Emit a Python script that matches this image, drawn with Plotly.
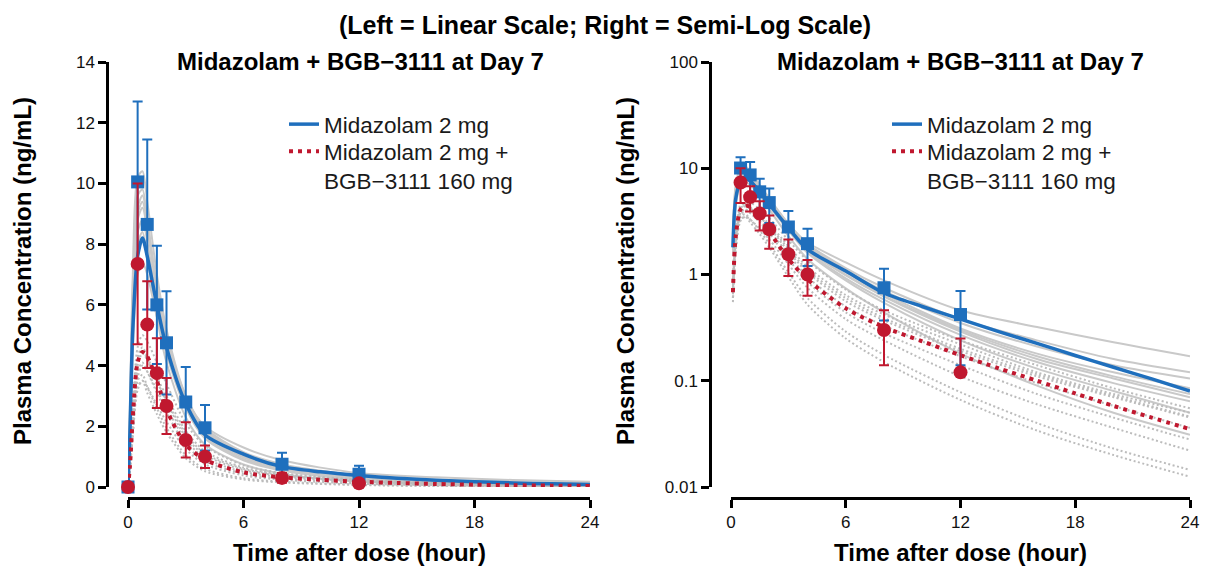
import plotly.graph_objects as go

W, H = 1211, 572
OFF = 8  # page body margin of the browser

# ---------------- data ----------------
# observed means (SD) by nominal time
t_obs = [0, 0.5, 1, 1.5, 2, 3, 4, 8, 12]
alone_mean = [0, 10.05, 8.65, 6.0, 4.75, 2.8, 1.95, 0.75, 0.42]
alone_sd = [0, 2.65, 2.8, 1.95, 1.7, 1.15, 0.75, 0.38, 0.28]
combo_mean = [0, 7.35, 5.35, 3.75, 2.67, 1.55, 1.0, 0.30, 0.12]
combo_sd = [0, 2.65, 1.43, 1.15, 0.92, 0.58, 0.37, 0.16, 0.13]

# model-predicted mean profiles
t_model = [0, 0.1, 0.25, 0.5, 0.75, 1, 1.5, 2, 3, 4, 6, 8, 10, 12, 14, 16, 18, 20, 22, 24]
alone_model = [0, 1.8, 5.2, 7.6, 8.2, 7.6, 6.0, 4.6, 2.75, 1.72, 1.08, 0.67, 0.5, 0.38,
               0.29, 0.225, 0.173, 0.134, 0.104, 0.08]
combo_model = [0, 0.68, 2.3, 4.1, 4.45, 4.3, 3.5, 2.55, 1.4, 0.9, 0.48, 0.32, 0.235, 0.174,
               0.131, 0.1, 0.076, 0.058, 0.045, 0.035]

# individual predicted profiles
t_ind = [0, 0.1, 0.25, 0.5, 0.75, 1, 1.5, 2, 3, 4, 6, 8, 12, 16, 20, 24]
alone_ind = [
    [0, 1.5, 4.5, 7.0, 7.4, 7.0, 5.6, 4.5, 2.9, 2.0, 1.3, 0.88, 0.46, 0.32, 0.23, 0.17],
    [0, 2.2, 6.0, 9.0, 9.4, 8.6, 6.6, 5.0, 3.0, 1.95, 1.15, 0.75, 0.38, 0.24, 0.16, 0.12],
    [0, 2.6, 7.0, 10.2, 10.4, 9.4, 7.0, 5.2, 3.0, 1.9, 1.1, 0.70, 0.35, 0.21, 0.14, 0.105],
    [0, 2.0, 5.8, 8.8, 9.2, 8.5, 6.5, 4.9, 2.9, 1.85, 1.05, 0.66, 0.31, 0.18, 0.12, 0.085],
    [0, 1.9, 5.5, 8.4, 8.8, 8.1, 6.1, 4.6, 2.7, 1.7, 0.98, 0.62, 0.29, 0.16, 0.105, 0.07],
    [0, 2.4, 6.6, 9.6, 9.8, 8.8, 6.4, 4.7, 2.7, 1.65, 0.92, 0.58, 0.27, 0.15, 0.095, 0.064],
    [0, 1.7, 5.0, 7.8, 8.2, 7.6, 5.8, 4.4, 2.6, 1.6, 0.88, 0.54, 0.24, 0.13, 0.08, 0.05],
    [0, 1.8, 5.2, 8.0, 8.4, 7.6, 5.6, 4.1, 2.3, 1.4, 0.74, 0.44, 0.18, 0.09, 0.05, 0.031],
    [0, 2.1, 6.2, 9.2, 9.6, 8.8, 6.6, 4.9, 2.8, 1.75, 1.0, 0.63, 0.30, 0.17, 0.11, 0.075],
]
combo_ind = [
    [0, 0.9, 2.6, 4.6, 5.0, 4.8, 4.1, 3.4, 2.1, 1.35, 0.72, 0.46, 0.24, 0.14, 0.085, 0.055],
    [0, 0.7, 2.2, 4.0, 4.4, 4.2, 3.6, 3.0, 1.85, 1.18, 0.64, 0.42, 0.22, 0.12, 0.075, 0.05],
    [0, 0.8, 2.4, 4.3, 4.6, 4.3, 3.5, 2.8, 1.65, 1.05, 0.56, 0.37, 0.19, 0.11, 0.07, 0.045],
    [0, 0.6, 1.9, 3.6, 4.0, 3.8, 3.2, 2.6, 1.55, 0.95, 0.5, 0.33, 0.17, 0.095, 0.058, 0.036],
    [0, 0.7, 2.1, 3.8, 4.1, 3.8, 3.1, 2.45, 1.4, 0.85, 0.44, 0.28, 0.14, 0.075, 0.045, 0.028],
    [0, 0.55, 1.7, 3.2, 3.5, 3.3, 2.7, 2.15, 1.25, 0.75, 0.38, 0.24, 0.11, 0.06, 0.036, 0.022],
    [0, 0.6, 1.8, 3.3, 3.5, 3.1, 2.4, 1.8, 0.95, 0.52, 0.25, 0.15, 0.066, 0.034, 0.02, 0.0125],
    [0, 0.65, 1.9, 3.5, 3.7, 3.3, 2.6, 1.95, 1.05, 0.6, 0.29, 0.175, 0.078, 0.04, 0.023, 0.0145],
    [0, 0.75, 2.3, 4.2, 4.5, 4.2, 3.5, 2.85, 1.75, 1.1, 0.6, 0.39, 0.20, 0.115, 0.072, 0.046],
]

x_ticks = [0, 6, 12, 18, 24]
y_lin_ticks = [0, 2, 4, 6, 8, 10, 12, 14]
y_log_ticks = [0.01, 0.1, 1, 10, 100]
y_log_text = ["0.01", "0.1", "1", "10", "100"]

name_alone = "Midazolam 2 mg"
name_combo = "Midazolam 2 mg +<br>BGB\u22123111 160 mg"
panel_title = "<b>Midazolam + BGB\u22123111 at Day 7</b>"

# ---------------- style ----------------
BLUE = "#1f6fbd"
RED = "#c0182f"
GRAY = "#c9c9c9"
GRAYD = "#bcbcbc"
FONT = "Liberation Sans"


def px_x(p):
    return (p - OFF) / W


def px_y(p):
    return (H - (p - OFF)) / H


fig = go.Figure()


def positive(xs, ys):
    pts = [(a, b) for a, b in zip(xs, ys) if b > 0]
    return [p[0] for p in pts], [p[1] for p in pts]


panels = [("x", "y", "legend", "legend3", False), ("x2", "y2", "legend2", "legend4", True)]
for xa, ya, leg_a, leg_c, is_log in panels:
    # individual profiles
    for ind in alone_ind:
        xs, ys = positive(t_ind, ind) if is_log else (t_ind, ind)
        fig.add_trace(go.Scatter(x=xs, y=ys, mode="lines", xaxis=xa, yaxis=ya,
                                 line=dict(color=GRAY, width=2, shape="spline", smoothing=0.8),
                                 showlegend=False, hoverinfo="skip"))
    for ind in combo_ind:
        xs, ys = positive(t_ind, ind) if is_log else (t_ind, ind)
        fig.add_trace(go.Scatter(x=xs, y=ys, mode="lines", xaxis=xa, yaxis=ya,
                                 line=dict(color=GRAYD, width=2, dash="2px,2.5px",
                                           shape="spline", smoothing=0.8),
                                 showlegend=False, hoverinfo="skip"))
    # model means
    xs, ys = positive(t_model, alone_model) if is_log else (t_model, alone_model)
    fig.add_trace(go.Scatter(x=xs, y=ys, mode="lines", xaxis=xa, yaxis=ya, name=name_alone,
                             legend=leg_a, line=dict(color=BLUE, width=3.5, shape="spline",
                                                     smoothing=0.8)))
    xs, ys = positive(t_model, combo_model) if is_log else (t_model, combo_model)
    fig.add_trace(go.Scatter(x=xs, y=ys, mode="lines", xaxis=xa, yaxis=ya, name=name_combo,
                             legend=leg_c, line=dict(color=RED, width=4, dash="4px,5px",
                                                     shape="spline", smoothing=0.8)))
    # observed means +/- SD
    for mean, sd, col, sym in [(alone_mean, alone_sd, BLUE, "square"),
                               (combo_mean, combo_sd, RED, "circle")]:
        if is_log:
            idx = [i for i, m in enumerate(mean) if m > 0]
            xs = [t_obs[i] for i in idx]
            ys = [mean[i] for i in idx]
            up = [sd[i] for i in idx]
            dn = [sd[i] if mean[i] - sd[i] > 0 else 0 for i in idx]
        else:
            xs, ys, up, dn = t_obs, mean, sd, sd
        fig.add_trace(go.Scatter(x=xs, y=ys, mode="markers", xaxis=xa, yaxis=ya,
                                 marker=dict(color=col, symbol=sym, size=13 if sym == "square" else 14),
                                 error_y=dict(type="data", array=up, arrayminus=dn, symmetric=False,
                                              color=col, thickness=2, width=5),
                                 cliponaxis=False, showlegend=False, hoverinfo="skip"))

axis_common = dict(showline=True, linecolor="black", linewidth=2.5, ticks="outside",
                   ticklen=8, tickwidth=2.5, tickcolor="black", showgrid=False,
                   zeroline=False, anchor="free", automargin=False,
                   tickfont=dict(family=FONT, size=17, color="#111"))

legend_common = dict(xanchor="left", yanchor="top", bgcolor="rgba(0,0,0,0)", valign="top",
                     font=dict(family=FONT, size=22.5, color="#1a1a1a"), tracegroupgap=0)

ydom = [px_y(487), px_y(62)]
fig.update_layout(
    width=W, height=H,
    margin=dict(l=0, r=0, t=0, b=0, autoexpand=False),
    paper_bgcolor="white", plot_bgcolor="white",
    font=dict(family=FONT, color="black"),
    xaxis=dict(domain=[px_x(128), px_x(590)], range=[0, 24], tickvals=x_ticks,
               position=px_y(498), **axis_common),
    yaxis=dict(domain=ydom, range=[0, 14], tickvals=y_lin_ticks, position=px_x(107),
               **axis_common),
    xaxis2=dict(domain=[px_x(731), px_x(1190)], range=[0, 24], tickvals=x_ticks,
                position=px_y(498), **axis_common),
    yaxis2=dict(domain=ydom, type="log", range=[-2, 2], tickvals=y_log_ticks,
                ticktext=y_log_text, position=px_x(710), **axis_common),
    legend=dict(x=px_x(284), y=px_y(103), **legend_common),
    legend3=dict(x=px_x(284), y=px_y(130), **legend_common),
    legend2=dict(x=px_x(887), y=px_y(103), **legend_common),
    legend4=dict(x=px_x(887), y=px_y(130), **legend_common),
    showlegend=True,
)

ann = [
    dict(text="<b>(Left = Linear Scale; Right = Semi-Log Scale)</b>", x=px_x(605), y=px_y(25),
         font=dict(size=25)),
    dict(text=panel_title, x=px_x(360), y=px_y(62), font=dict(size=24)),
    dict(text=panel_title, x=px_x(960), y=px_y(62), font=dict(size=24)),
    dict(text="<b>Time after dose (hour)</b>", x=px_x(359), y=px_y(552), font=dict(size=24)),
    dict(text="<b>Time after dose (hour)</b>", x=px_x(960), y=px_y(552), font=dict(size=24)),
    dict(text="<b>Plasma Concentration (ng/mL)</b>", x=px_x(22), y=px_y(271), textangle=-90,
         font=dict(size=24)),
    dict(text="<b>Plasma Concentration (ng/mL)</b>", x=px_x(625), y=px_y(271), textangle=-90,
         font=dict(size=24)),
]
for a in ann:
    a.update(xref="paper", yref="paper", showarrow=False, xanchor="center", yanchor="middle")
    a["font"].update(family=FONT, color="black")
fig.update_layout(annotations=ann)

fig.write_html("out.html")
